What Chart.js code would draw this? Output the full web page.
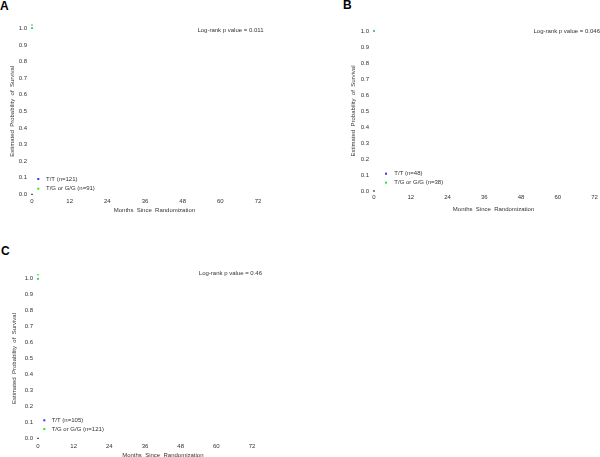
<!DOCTYPE html>
<html>
<head>
<meta charset="utf-8">
<script src="https://cdn.jsdelivr.net/npm/chart.js@4.4.1/dist/chart.umd.min.js"></script>
<style>
  body { margin: 0; background: #fff; width: 600px; height: 457px; position: relative; overflow: hidden; font-family: "Liberation Sans", Arial, sans-serif; }
  canvas { position: absolute; }
  .tag { position: absolute; font-weight: bold; font-size: 12px; line-height: 12px; color: #000; }
</style>
</head>
<body>
<div class="tag" style="left:0px;top:0px">A</div>
<div class="tag" style="left:343px;top:-1px">B</div>
<div class="tag" style="left:1px;top:245px">C</div>
<canvas id="cA" width="300" height="220" style="left:0;top:0"></canvas>
<canvas id="cB" width="320" height="220" style="left:300px;top:0"></canvas>
<canvas id="cC" width="300" height="245" style="left:0;top:220px"></canvas>
<script>
// axis ticks
const xTicks = [0, 12, 24, 36, 48, 60, 72];
const groups = ['T/T', 'T/G or G/G'];

// group sizes per panel
const nA = [121, 91];
const nB = [48, 38];
const nC = [105, 121];
const pValues = ['0.011', '0.046', '0.46'];

// the few marks that are visible (months, survival)
const monthsA = [0, 0];
const tgA = [1.0, 1.02];
const ttA = [1.0];
const monthsB = [0];
const tgB = [1.0];
const ttB = [1.0];
const monthsC = [0, 0];
const tgC = [1.0, 1.025];
const ttC = [1.0];
const origin = [0];

const green = '#22ee22';
const blue = '#3333ff';
const txt = '#333';

function pts(months, vals) {
  return vals.map((v, i) => ({ x: months[i] !== undefined ? months[i] : 0, y: v }));
}

const annot = {
  id: 'annot',
  afterDraw(chart) {
    const o = chart.options.plugins.annot;
    const ctx = chart.ctx;
    ctx.save();
    ctx.font = '6px "Liberation Sans", Arial, sans-serif';
    ctx.fillStyle = txt;
    ctx.textBaseline = 'middle';
    ctx.textAlign = 'right';
    ctx.fillText('Log-rank p value = ' + o.p, o.pX, o.pY);
    ctx.textAlign = 'left';
    const cols = [blue, green];
    groups.forEach((g, i) => {
      ctx.fillStyle = cols[i];
      ctx.fillRect(o.mX - 1, o.legY[i] - 1, 2, 2);
      ctx.fillStyle = txt;
      ctx.fillText(g + ' (n=' + o.n[i] + ')', o.tX, o.legY[i]);
    });
    ctx.restore();
  }
};

function panel(id, cfg) {
  new Chart(document.getElementById(id), {
    type: 'scatter',
    data: {
      datasets: [
        { label: groups[1], data: pts(cfg.months, cfg.tg), backgroundColor: green, borderColor: green, pointStyle: 'rect', pointRadius: 1, borderWidth: 0, clip: false },
        { label: groups[0], data: pts(cfg.months, cfg.tt), backgroundColor: blue, borderColor: blue, pointStyle: 'rect', pointRadius: 1, borderWidth: 0, clip: false },
        { label: 'origin', data: pts(origin, origin), backgroundColor: '#000', borderColor: '#000', pointStyle: 'rect', pointRadius: 0.9, borderWidth: 0, clip: false }
      ]
    },
    options: {
      responsive: false,
      animation: false,
      layout: { padding: cfg.pad },
      plugins: {
        legend: { display: false },
        tooltip: { enabled: false },
        annot: cfg.annot
      },
      scales: {
        x: {
          type: 'linear',
          min: 0,
          max: cfg.xMax,
          afterBuildTicks: s => { s.ticks = xTicks.map(v => ({ value: v })); },
          afterFit: s => { s.height = cfg.xH; },
          grid: { display: false, drawTicks: false },
          border: { display: false },
          ticks: { padding: cfg.xPad, color: txt, font: { size: 6, family: 'Liberation Sans' }, maxRotation: 0 },
          title: { display: true, text: 'Months  Since  Randomization', color: txt, padding: 4, font: { size: 6, family: 'Liberation Sans' } }
        },
        y: {
          min: 0,
          max: 1,
          afterFit: s => { s.width = cfg.yW; },
          grid: { display: false, drawTicks: false },
          border: { display: false },
          ticks: { stepSize: 0.1, padding: 5, color: txt, font: { size: 6, family: 'Liberation Sans' }, callback: v => v.toFixed(1) },
          title: { display: true, text: 'Estimated  Probability  of  Survival', color: txt, padding: 4, font: { size: 6, family: 'Liberation Sans' } }
        }
      }
    },
    plugins: [annot]
  });
}

panel('cA', {
  months: monthsA, tg: tgA, tt: ttA, xMax: 78,
  pad: { left: 5.1, top: 28.3, right: 23.2, bottom: 1.7 },
  yW: 26.9, xH: 24, xPad: 3,
  annot: { p: pValues[0], pX: 263.5, pY: 30, n: nA, mX: 38.3, tX: 46, legY: [179, 188.7] }
});

panel('cB', {
  months: monthsB, tg: tgB, tt: ttB, xMax: 78,
  pad: { left: 45.7, top: 31, right: 7, bottom: 3.1 },
  yW: 28.3, xH: 25.9, xPad: 3,
  annot: { p: pValues[1], pX: 300, pY: 31, n: nB, mX: 86, tX: 94.3, legY: [173.7, 182.7] }
});

panel('cC', {
  months: monthsC, tg: tgC, tt: ttC, xMax: 84,
  pad: { left: 6.7, top: 58.7, right: 12.3, bottom: 2.4 },
  yW: 31.3, xH: 24.3, xPad: 4,
  annot: { p: pValues[2], pX: 262, pY: 53.3, n: nC, mX: 44.3, tX: 51.7, legY: [200.3, 209] }
});
</script>
</body>
</html>
